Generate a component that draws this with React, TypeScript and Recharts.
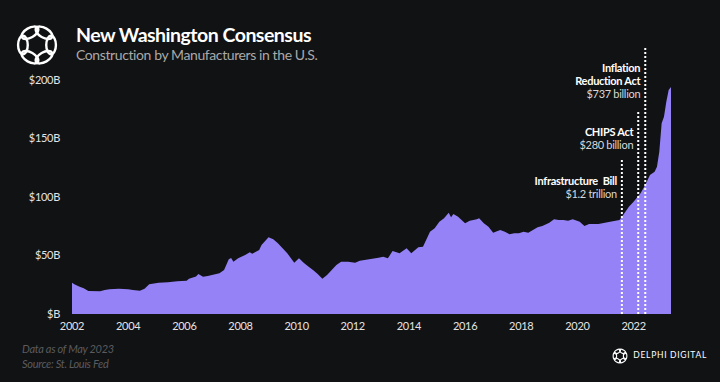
import { AreaChart, Area, XAxis, YAxis, ReferenceLine } from 'recharts'

// monthly points (value in $B)
const months = [
  '2002-01', '2002-02', '2002-04', '2002-06', '2002-08', '2003-01', '2003-03', '2003-05', '2003-09',
  '2004-01', '2004-03', '2004-06', '2004-08', '2004-10', '2005-02', '2005-06', '2005-10',
  '2006-02', '2006-03', '2006-06', '2006-07', '2006-09', '2006-11', '2007-04', '2007-06', '2007-08',
  '2007-09', '2007-10', '2007-12', '2008-03', '2008-05', '2008-06', '2008-09', '2008-10',
  '2009-01', '2009-03', '2009-05', '2009-07', '2009-09', '2009-12', '2010-02', '2010-04', '2010-06',
  '2010-08', '2010-10', '2010-12', '2011-02', '2011-04', '2011-06', '2011-08', '2011-11',
  '2012-02', '2012-04', '2012-08', '2012-12', '2013-02', '2013-04', '2013-06', '2013-09', '2013-12',
  '2014-02', '2014-05', '2014-07', '2014-10', '2014-12', '2015-02', '2015-04', '2015-06', '2015-07',
  '2015-08', '2015-10', '2016-01', '2016-03', '2016-06', '2016-07', '2016-09', '2016-11',
  '2017-01', '2017-04', '2017-06', '2017-08', '2017-10', '2017-12', '2018-02', '2018-04', '2018-06',
  '2018-08', '2018-10', '2019-01', '2019-03', '2019-05', '2019-07', '2019-09', '2019-11',
  '2020-02', '2020-04', '2020-06', '2020-10', '2021-03', '2021-07', '2021-09', '2021-11',
  '2022-01', '2022-04', '2022-06', '2022-08', '2022-10', '2022-11', '2022-12',
  '2023-01', '2023-02', '2023-03', '2023-04', '2023-05',
]
const values = [
  26.8, 25.5, 23.4, 22, 19.7, 19.4, 20.5, 21.1, 21.6,
  21.1, 20.6, 19.9, 21.5, 25.4, 26.8, 27.1, 27.9,
  28.5, 30.2, 32, 34.2, 31.9, 32.5, 34.8, 37.6, 46.7,
  47.9, 44.7, 47.6, 50.4, 52.7, 51.5, 54.7, 59,
  65.5, 63.8, 60.4, 56.1, 51.9, 43.9, 47.6, 43.9, 40.5,
  37.6, 34.2, 30.2, 33.3, 37.6, 41.9, 44.7, 44.7,
  43.9, 45.6, 46.7, 48.1, 49, 47.6, 53.8, 51.9, 56.1,
  51.9, 57, 57.5, 70.3, 73.2, 78.9, 81.8, 86.6, 82.6,
  85.5, 83.2, 77.5, 79.7, 80.9, 81.8, 77.5, 74.6,
  69.5, 71.8, 70.3, 68.1, 69, 69, 70.3, 69.5, 71.8,
  74.1, 75.2, 78, 80.9, 80.3, 80.3, 79.7, 80.9,
  78.9, 75.2, 76.9, 76.9, 78.9, 80.3, 86, 91.7,
  96, 103.2, 110.3, 118.8, 121.6, 125.9, 138.7,
  163, 168.6, 181.5, 191.5, 194,
]

const yearTicks = [2002, 2004, 2006, 2008, 2010, 2012, 2014, 2016, 2018, 2020, 2022]
const valueTicks = [0, 50, 100, 150, 200]

const eventMonths = ['2022-06', '2022-03', '2021-08']
const eventTops = [228, 173.5, 131.6]
const eventNames = [['Inflation', 'Reduction Act'], ['CHIPS Act'], ['Infrastructure\u00a0 Bill']]
const eventAmounts = ['$737 billion', '$280 billion', '$1.2 trillion']

const toYear = (m: string) => {
  const [y, mo] = m.split('-').map(Number)
  return y + (mo - 1) / 12
}

const data = months.map((m, i) => ({ t: toYear(m), v: values[i] }))

const FONT = 'Lato, "Open Sans", sans-serif'

function EventLabel({ viewBox, names, amount }: any) {
  const x = viewBox.x - 5
  const y = viewBox.y + 25
  return (
    <text x={x} y={y} textAnchor="end" fontFamily={FONT} fontSize={11} letterSpacing={-0.3}>
      {names.map((n: string, i: number) => (
        <tspan key={n} x={x} dy={i === 0 ? 0 : 13} fill="#ffffff" fontWeight={700}>{n}</tspan>
      ))}
      <tspan x={x} dy={13} fill="#d8d8d8">{amount}</tspan>
    </text>
  )
}

function Logo({ cx, cy, r, w }: { cx: number; cy: number; r: number; w: number }) {
  const loops = [0, 1, 2, 3, 4, 5]
  return (
    <g fill="none" stroke="#ffffff" strokeWidth={w}>
      {loops.map((i) => {
        const a = (i / loops.length) * Math.PI * 2
        const ex = cx + Math.cos(a) * r * 0.64
        const ey = cy + Math.sin(a) * r * 0.64
        return (
          <ellipse
            key={i}
            cx={ex}
            cy={ey}
            rx={r * 0.42}
            ry={r * 0.22}
            transform={`rotate(${(a * 180) / Math.PI + 90} ${ex} ${ey})`}
          />
        )
      })}
    </g>
  )
}

export default function App() {
  return (
    <div style={{ position: 'absolute', left: 0, top: 0, width: 720, height: 382, background: '#111214', fontFamily: FONT, overflow: 'hidden' }}>
      <svg width={720} height={382} style={{ position: 'absolute', left: 0, top: 0 }}>
        <Logo cx={37} cy={45} r={22} w={2.4} />
        <Logo cx={620} cy={356} r={8} w={1.1} />
      </svg>
      <div style={{ position: 'absolute', left: 76, top: 23, color: '#ffffff', fontSize: 19.5, fontWeight: 700, letterSpacing: -0.5, whiteSpace: 'nowrap' }}>New Washington Consensus</div>
      <div style={{ position: 'absolute', left: 76, top: 46, color: '#a9a9a9', fontSize: 14, letterSpacing: -0.4, whiteSpace: 'nowrap' }}>Construction by Manufacturers in the U.S.</div>
      <div style={{ position: 'absolute', left: 22, top: 341, color: '#5a5b5e', fontSize: 11, fontStyle: 'italic', lineHeight: '15px', letterSpacing: -0.3, whiteSpace: 'nowrap' }}>
        Data as of May 2023<br />Source: St. Louis Fed
      </div>
      <div style={{ position: 'absolute', right: 13, top: 350, color: '#ffffff', fontSize: 8.5, letterSpacing: 0.7, whiteSpace: 'nowrap' }}>DELPHI DIGITAL</div>
      <div style={{ position: 'absolute', left: 0, top: 0 }}>
        <AreaChart width={720} height={382} data={data} margin={{ top: 80, right: 49, bottom: 38, left: 0 }}>
          <XAxis
            dataKey="t"
            type="number"
            domain={[2002, 2023 + 4 / 12]}
            ticks={yearTicks}
            axisLine={false}
            tickLine={false}
            tick={{ fill: '#e4e4e4', fontSize: 11, fontFamily: FONT, letterSpacing: -0.3 }}
          />
          <YAxis
            width={72}
            domain={[0, 200]}
            ticks={valueTicks}
            axisLine={false}
            tickLine={false}
            tickMargin={6}
            tickFormatter={(v: number) => (v === 0 ? '$B' : `$${v}B`)}
            tick={{ fill: '#e4e4e4', fontSize: 11, fontFamily: FONT, letterSpacing: -0.3 }}
          />
          <Area
            type="linear"
            dataKey="v"
            stroke="none"
            fill="#9582f7"
            fillOpacity={1}
            isAnimationActive={false}
          />
          {eventMonths.map((m, i) => (
            <ReferenceLine
              key={m}
              segment={[{ x: toYear(m), y: 0 }, { x: toYear(m), y: eventTops[i] }]}
              ifOverflow="visible"
              stroke="#ffffff"
              strokeWidth={2}
              strokeDasharray="2 2"
              label={(p: any) => <EventLabel viewBox={p.viewBox} names={eventNames[i]} amount={eventAmounts[i]} />}
            />
          ))}
        </AreaChart>
      </div>
    </div>
  )
}
